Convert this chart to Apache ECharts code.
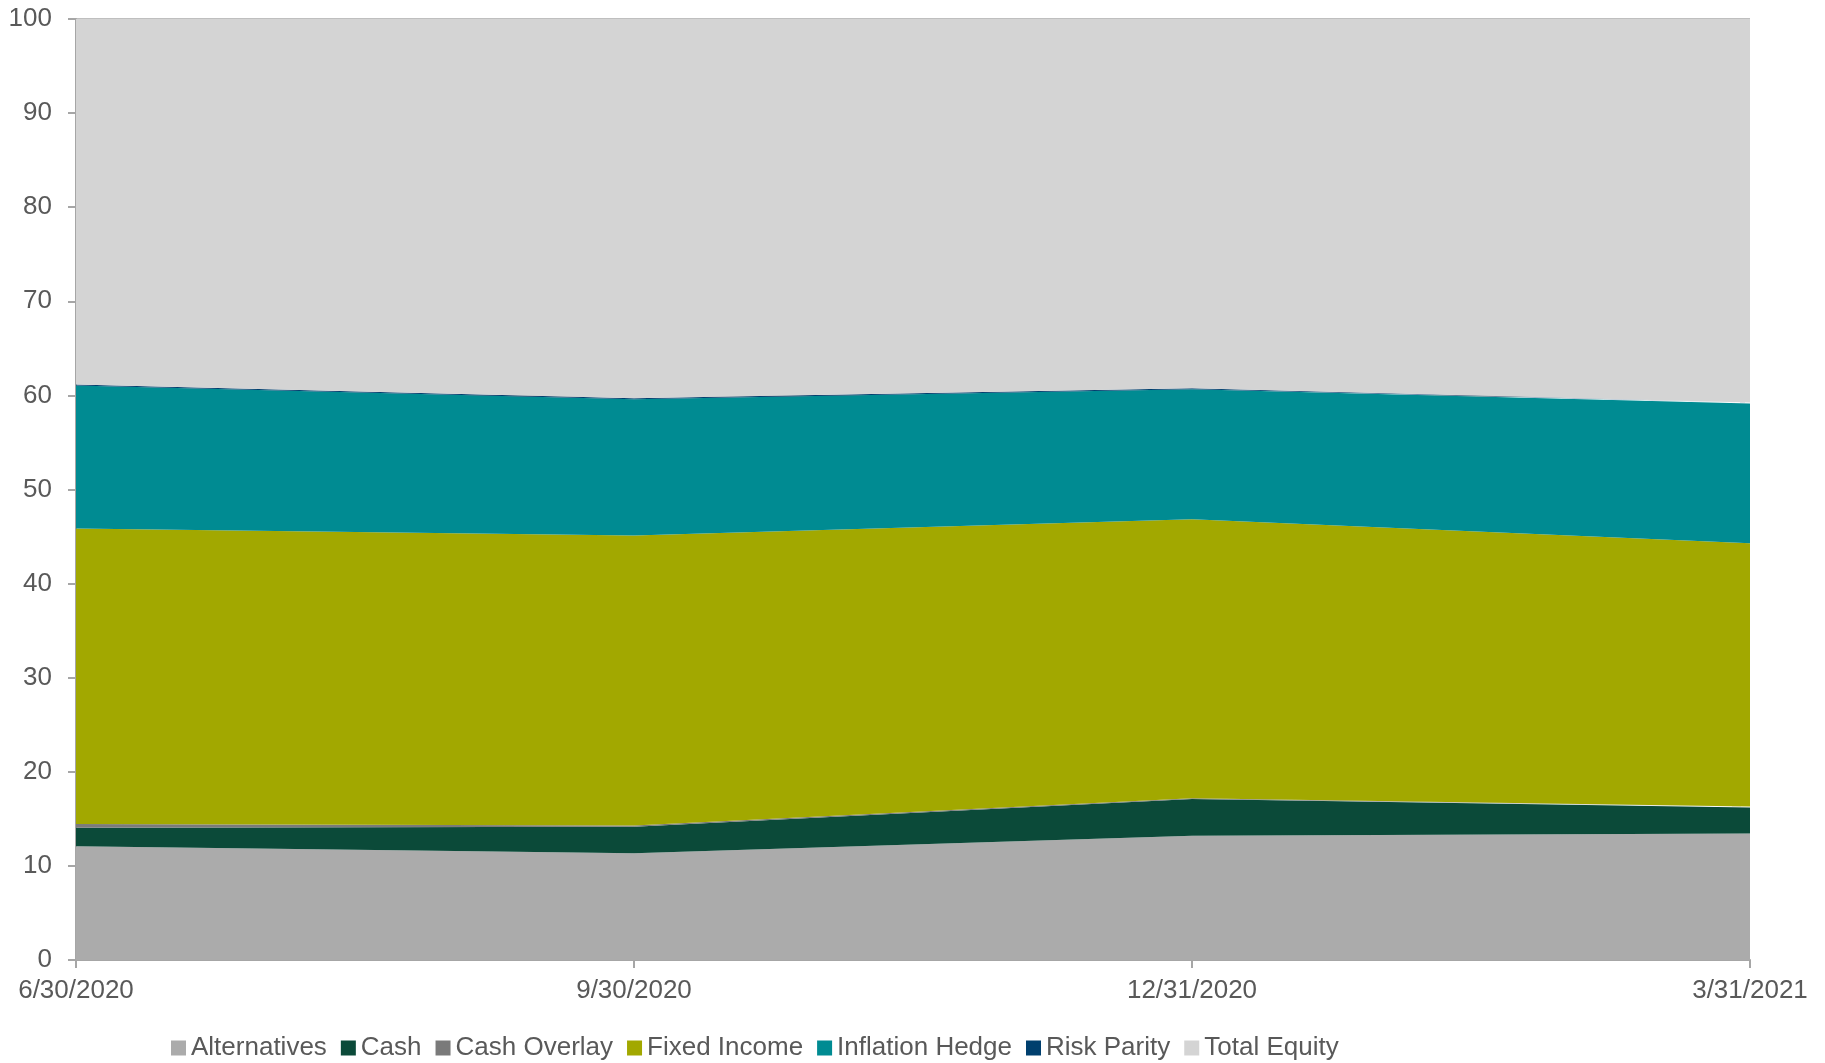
<!DOCTYPE html>
<html>
<head>
<meta charset="utf-8">
<script src="https://cdn.jsdelivr.net/npm/echarts@6/dist/echarts.min.js"></script>
<style>
html,body{margin:0;padding:0;background:#fff;}
#chart{width:1825px;height:1063px;}
</style>
</head>
<body>
<div id="chart"></div>
<script>
var categories = ['6/30/2020', '9/30/2020', '12/31/2020', '3/31/2021'];
var seriesNames = ['Alternatives', 'Cash', 'Cash Overlay', 'Fixed Income', 'Inflation Hedge', 'Risk Parity', 'Total Equity'];
var alternatives   = [12.1, 11.35, 13.2, 13.45];
var cash           = [1.95, 2.8, 3.9, 2.75];
var cashOverlay    = [0.4, 0.15, 0.1, 0.1];
var fixedIncome    = [31.4, 30.8, 29.65, 28.0];
var inflationHedge = [15.2, 14.5, 13.8, 14.85];
var riskParity     = [0.1, 0.1, 0.1, 0.1];
var totalEquity    = [38.85, 40.3, 39.25, 40.75];
var yTicks = [0, 10, 20, 30, 40, 50, 60, 70, 80, 90, 100];

var colors = ['#ABABAB', '#0B4A39', '#7A7A7A', '#A2A800', '#008B92', '#003F6E', '#D4D4D4'];
var dataList = [alternatives, cash, cashOverlay, fixedIncome, inflationHedge, riskParity, totalEquity];

var font = '"Liberation Sans", Arial, sans-serif';
var txt = '#595959';

var chart = echarts.init(document.getElementById('chart'), null, {renderer: 'canvas'});
chart.setOption({
  animation: false,
  color: colors,
  textStyle: {fontFamily: font},
  grid: {left: 76, right: 75, top: 19, bottom: 103, containLabel: false},
  legend: {
    left: 166, top: 1030,
    icon: 'rect', itemWidth: 15, itemHeight: 15, itemGap: 14,
    textStyle: {fontFamily: font, fontSize: 26, color: txt},
    data: seriesNames
  },
  xAxis: {
    type: 'category',
    data: categories,
    boundaryGap: false,
    axisLine: {show: true, lineStyle: {color: '#A6A6A6', width: 2}},
    axisTick: {show: true, length: 8, lineStyle: {color: '#A6A6A6', width: 2}},
    axisLabel: {fontFamily: font, fontSize: 26, color: txt, margin: 18}
  },
  yAxis: {
    type: 'value',
    min: 0, max: 100, interval: 10,
    axisLine: {show: true, lineStyle: {color: '#A6A6A6', width: 2}},
    axisTick: {show: true, length: 8, lineStyle: {color: '#A6A6A6', width: 2}},
    axisLabel: {fontFamily: font, fontSize: 26, color: txt, margin: 24,
      formatter: function (v) { return yTicks.indexOf(v) >= 0 ? String(v) : ''; }},
    splitLine: {show: true, lineStyle: {color: '#BFBFBF', width: 2}}
  },
  series: seriesNames.map(function (name, i) {
    return {
      name: name,
      type: 'line',
      stack: 'total',
      data: dataList[i],
      showSymbol: false,
      symbol: 'none',
      lineStyle: {width: 0},
      areaStyle: {color: colors[i], opacity: 1},
      itemStyle: {color: colors[i]}
    };
  })
});
</script>
</body>
</html>
